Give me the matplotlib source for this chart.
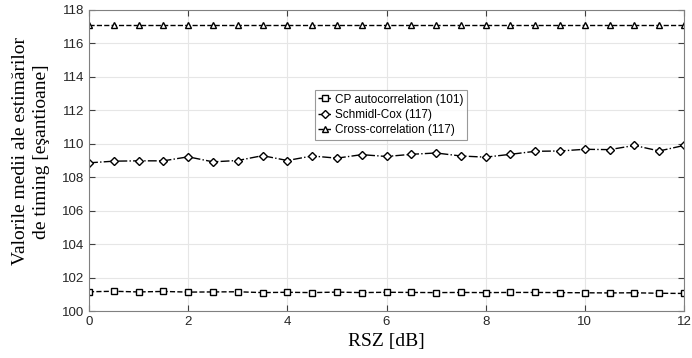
import numpy as np
import matplotlib.pyplot as plt

snr = np.arange(0, 12.5, 0.5)

cp_auto = [101.15, 101.18, 101.14, 101.17, 101.13, 101.14, 101.15, 101.10, 101.12, 101.10,
           101.13, 101.10, 101.12, 101.11, 101.10, 101.11, 101.10, 101.11, 101.11, 101.10,
           101.09, 101.08, 101.09, 101.06, 101.05]
schmidl = [108.86, 108.96, 108.98, 108.98, 109.22, 108.92, 109.00, 109.29, 109.00, 109.27,
           109.14, 109.35, 109.24, 109.37, 109.45, 109.27, 109.20, 109.37, 109.55, 109.57,
           109.67, 109.65, 109.90, 109.57, 109.90]
cross = [117.08] * len(snr)

labels = ['CP autocorrelation (101)', 'Schmidl-Cox (117)', 'Cross-correlation (117)']

fig = plt.figure(figsize=(6.92, 3.58), dpi=100)
ax = fig.add_axes([89 / 692, 47 / 358, 595 / 692, 301 / 358])

mk = dict(color='k', markerfacecolor='white', markeredgecolor='k', markersize=5,
          markeredgewidth=1, linewidth=1)
ax.plot(snr, cp_auto, '--s', label=labels[0], **mk)
ax.plot(snr, schmidl, '-.D', label=labels[1], **dict(mk, markersize=4.5))
ax.plot(snr, cross, '--^', label=labels[2], **mk)

ax.set_xlim(0, 12)
ax.set_ylim(100, 118)
ax.set_xticks(np.arange(0, 13, 2))
ax.set_yticks(np.arange(100, 119, 2))
ax.grid(True, color='#e6e6e6', linewidth=0.8)
ax.set_axisbelow(True)
for s in ax.spines.values():
    s.set_color('#808080')
    s.set_linewidth(0.8)
ax.tick_params(direction='in', top=True, right=True, colors='#404040', length=4,
               labelsize=9.5, labelfontfamily='Liberation Sans')
for t in ax.get_xticklabels() + ax.get_yticklabels():
    t.set_color('#262626')

ax.set_xlabel('RSZ [dB]', family='Liberation Serif', fontsize=14)
ax.set_ylabel('Valorile medii ale estimărilor\nde timing [eşantioane]',
              family='Liberation Serif', fontsize=14, linespacing=1.3)
ax.yaxis.set_label_coords(-0.066, 0.53)

leg = ax.legend(loc='upper left', bbox_to_anchor=(0.379, 0.734), frameon=True,
                fancybox=False, edgecolor='#808080', handlelength=1.2,
                handletextpad=0.2, borderpad=0.3, labelspacing=0.28,
                borderaxespad=0, prop={'family': 'Liberation Sans', 'size': 8.5})
leg.get_frame().set_linewidth(0.8)

fig.savefig('out.png', dpi=100)
